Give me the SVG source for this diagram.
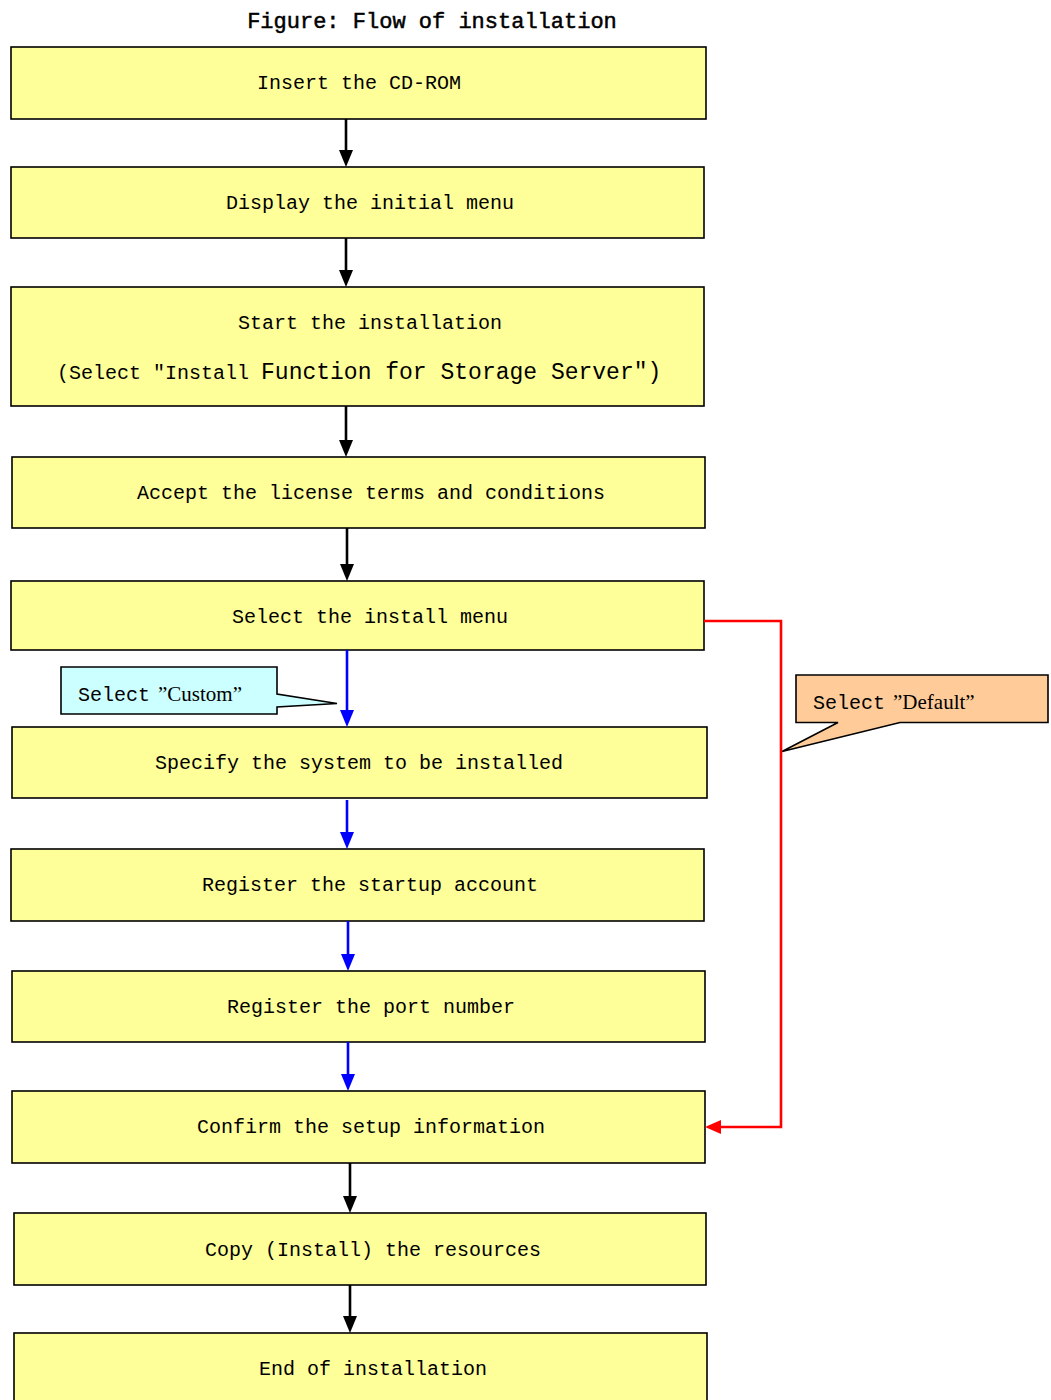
<svg xmlns="http://www.w3.org/2000/svg" width="1051" height="1400" viewBox="0 0 1051 1400">
<style>
.box{fill:#FFFF99;stroke:#000;stroke-width:1.6}
.t{font-family:"Liberation Mono",monospace;font-size:20px;fill:#000;text-anchor:middle}
.tl{font-family:"Liberation Mono",monospace;font-size:20px;fill:#000}
.serif{font-family:"Liberation Serif",serif;font-size:21px}
.k{stroke:#000;stroke-width:2.6;fill:none}
.b{stroke:#0000FF;stroke-width:2.6;fill:none}
.r{stroke:#FF0000;stroke-width:2.6;fill:none}
</style>
<rect width="1051" height="1400" fill="#fff"/>
<text x="432" y="28" font-family="Liberation Mono,monospace" font-size="22" text-anchor="middle" fill="#000" stroke="#000" stroke-width="0.5">Figure: Flow of installation</text>

<g id="n1"><rect class="box" x="11" y="47" width="695" height="72"/><text class="t" x="359" y="89">Insert the CD-ROM</text></g>
<g id="n2"><rect class="box" x="11" y="167" width="693" height="71"/><text class="t" x="370" y="209">Display the initial menu</text></g>
<g id="n3"><rect class="box" x="11" y="287" width="693" height="119"/><text class="t" x="370" y="329">Start the installation</text><text class="tl" x="57" y="379">(Select ″Install <tspan font-size="23">Function for Storage Server″)</tspan></text></g>
<g id="n4"><rect class="box" x="12" y="457" width="693" height="71"/><text class="t" x="371" y="499">Accept the license terms and conditions</text></g>
<g id="n5"><rect class="box" x="11" y="581" width="693" height="69"/><text class="t" x="370" y="623">Select the install menu</text></g>
<g id="n6"><rect class="box" x="12" y="727" width="695" height="71"/><text class="t" x="359" y="769">Specify the system to be installed</text></g>
<g id="n7"><rect class="box" x="11" y="849" width="693" height="72"/><text class="t" x="370" y="891">Register the startup account</text></g>
<g id="n8"><rect class="box" x="12" y="971" width="693" height="71"/><text class="t" x="371" y="1013">Register the port number</text></g>
<g id="n9"><rect class="box" x="12" y="1091" width="693" height="72"/><text class="t" x="371" y="1133">Confirm the setup information</text></g>
<g id="n10"><rect class="box" x="14" y="1213" width="692" height="72"/><text class="t" x="373" y="1256">Copy (Install) the resources</text></g>
<g id="n11"><rect class="box" x="14" y="1333" width="693" height="80"/><text class="t" x="373" y="1375">End of installation</text></g>

<g id="callout-custom">
<path d="M61,667 H277 V694 L337,703.5 L277,707 V714 H61 Z" fill="#CCFFFF" stroke="#000" stroke-width="1.6"/>
<text class="tl" x="78" y="701">Select <tspan class="serif" dx="-4">”Custom”</tspan></text>
</g>
<g id="callout-default">
<path d="M796,675 H1048 V722.5 H900 L782,751.5 L838,722.5 H796 Z" fill="#FFCC99" stroke="#000" stroke-width="1.6"/>
<text class="tl" x="813" y="709">Select <tspan class="serif" dx="-4">”Default”</tspan></text>
</g>

<g id="connectors">
<line class="k" x1="346" y1="119" x2="346" y2="152"/><path d="M339,150 L353,150 L346,167 Z"/>
<line class="k" x1="346" y1="238" x2="346" y2="272"/><path d="M339,270 L353,270 L346,287 Z"/>
<line class="k" x1="346" y1="406" x2="346" y2="442"/><path d="M339,440 L353,440 L346,457 Z"/>
<line class="k" x1="347" y1="528" x2="347" y2="566"/><path d="M340,564 L354,564 L347,581 Z"/>
<line class="b" x1="347" y1="650" x2="347" y2="712"/><path d="M340,710 L354,710 L347,727 Z" fill="#0000FF"/>
<line class="b" x1="347" y1="800" x2="347" y2="834"/><path d="M340,832 L354,832 L347,849 Z" fill="#0000FF"/>
<line class="b" x1="348" y1="921" x2="348" y2="956"/><path d="M341,954 L355,954 L348,971 Z" fill="#0000FF"/>
<line class="b" x1="348" y1="1042" x2="348" y2="1076"/><path d="M341,1074 L355,1074 L348,1091 Z" fill="#0000FF"/>
<line class="k" x1="350" y1="1163" x2="350" y2="1198"/><path d="M343,1196 L357,1196 L350,1213 Z"/>
<line class="k" x1="350" y1="1285" x2="350" y2="1318"/><path d="M343,1316 L357,1316 L350,1333 Z"/>
<polyline class="r" points="704,621 781,621 781,1127 719,1127"/><path d="M721,1120 L721,1134 L705,1127 Z" fill="#FF0000"/>
</g>
</svg>
